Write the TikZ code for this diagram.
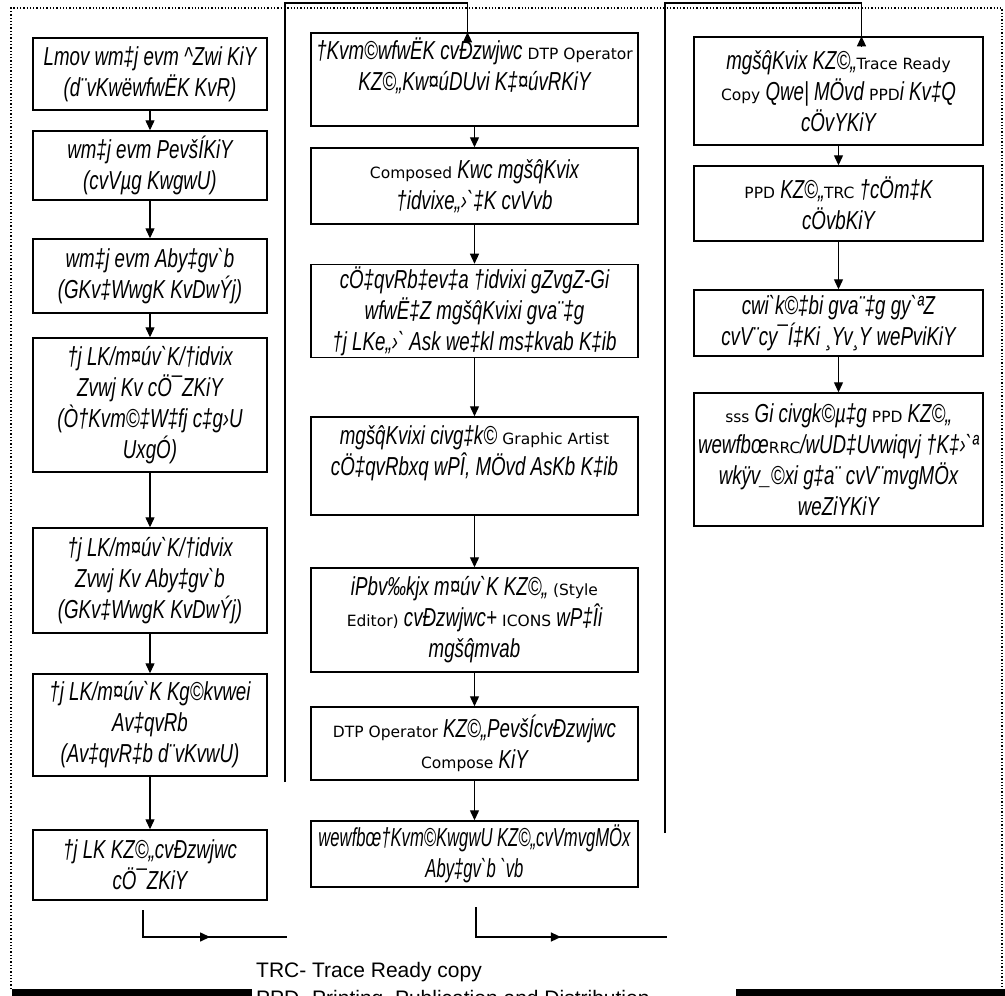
\documentclass[tikz,border=0pt]{standalone}
\usepackage{fontspec}
\newfontfamily\bnfont[FakeStretch=0.72,Ligatures=TeXOff]{Liberation Sans}
\newfontfamily\bntight[FakeStretch=0.64,Ligatures=TeXOff]{Liberation Sans}
\newfontfamily\enfont{DejaVu Sans}
\newfontfamily\keyfont{Liberation Sans}
\newcommand\en[1]{{\enfont\upshape\fontsize{15.5}{31}\selectfont #1}}
\usetikzlibrary{arrows.meta,decorations.markings}

\begin{document}
\begin{tikzpicture}
  [x=1pt,y=-1pt,
   flowN/.style={draw,line width=1.4pt,align=center,inner sep=2pt,
     font=\bnfont\itshape\fontsize{26}{31}\selectfont},
   tightN/.style={font=\bntight\itshape\fontsize{26}{31}\selectfont},
   leftN/.style={flowN,minimum width=234pt},
   midN/.style={flowN,minimum width=327pt},
   rightN/.style={flowN,minimum width=289pt},
   arr/.style={line width=1.2pt,-{Triangle[length=10pt,width=9pt]}},
   sepLine/.style={line width=1.6pt},
   midArr/.style={line width=1.4pt,postaction={decorate},
     decoration={markings,mark=at position #1 with {\arrow{Triangle[length=10pt,width=9pt]}}}},
  ]

  \useasboundingbox (0,0) rectangle (1005,996);

  % dotted frame and footer
  \draw[dotted,line width=1.3pt] (11,989) -- (11,8) -- (1002,8) -- (1002,989);
  \fill (12,989) rectangle (252,997);
  \fill (736,989) rectangle (1005,997);

  % column 1
  \node[leftN,minimum height=72pt] (B1) at (150,74)
    {Lmov wm‡j evm \textasciicircum{}Zwi KiY\\(d¨vKwëwfwËK KvR)};
  \node[leftN,minimum height=69pt] (B2) at (150,165.5)
    {wm‡j evm PevšÍKiY\\(cvVµg KwgwU)};
  \node[leftN,minimum height=74pt] (B3) at (150,276)
    {wm‡j evm Aby‡gv`b\\(GKv‡WwgK KvDwÝj)};
  \node[leftN,minimum height=134pt] (B4) at (150,405)
    {†j LK/m¤úv`K/†idvix\\Zvwj Kv cÖ¯ZKiY\\(Ò†Kvm©‡W‡fj c‡g›U\\UxgÓ)};
  \node[leftN,minimum height=105pt] (B5) at (150,580.5)
    {†j LK/m¤úv`K/†idvix\\Zvwj Kv Aby‡gv`b\\(GKv‡WwgK KvDwÝj)};
  \node[leftN,minimum height=102pt] (B6) at (150,725)
    {†j LK/m¤úv`K Kg©kvwei\\Av‡qvRb\\(Av‡qvR‡b d¨vKvwU)};
  \node[leftN,minimum height=70pt] (B7) at (150,865)
    {†j LK KZ©„cvÐzwjwc\\cÖ¯ZKiY};

  % column 2
  \node[midN,minimum height=93pt] (C1) at (474.5,79.5)
    {†Kvm©wfwËK cvÐzwjwc \en{DTP Operator}\\KZ©„Kw¤úDUvi K‡¤úvRKiY\\\mbox{}};
  \node[midN,minimum height=76pt] (C2) at (474.5,186)
    {\en{Composed} Kwc mgš\^qKvix\\†idvixe„›`‡K cvVvb};
  \node[midN,minimum height=88pt] (C3) at (474.5,311)
    {cÖ‡qvRb‡ev‡a †idvixi gZvgZ-Gi\\wfwË‡Z mgš\^qKvixi gva¨‡g\\†j LKe„›` Ask we‡kl ms‡kvab K‡ib};
  \node[midN,minimum height=98pt] (C4) at (474.5,466)
    {mgš\^qKvixi civg‡k© \en{Graphic Artist}\\cÖ‡qvRbxq wPÎ, MÖvd AsKb K‡ib\\\mbox{}};
  \node[midN,minimum height=104pt] (C5) at (474.5,620)
    {iPbv‰kjx m¤úv`K KZ©„ \en{(Style}\\\en{Editor)} cvÐzwjwc+ \en{ICONS} wP‡Îi\\mgš\^qmvab};
  \node[midN,minimum height=73pt] (C6) at (474.5,743.5)
    {\en{DTP Operator} KZ©„PevšÍcvÐzwjwc\\\en{Compose} KiY};
  \node[midN,tightN,minimum height=66pt] (C7) at (474.5,854)
    {wewfbœ†Kvm©KwgwU KZ©„cvVmvgMÖx\\Aby‡gv`b `vb};

  % column 3
  \node[rightN,minimum height=108pt] (D1) at (838.5,91)
    {mgš\^qKvix KZ©„\en{Trace Ready}\\\en{Copy} Qwe| MÖvd \en{PPD}i Kv‡Q\\cÖvYKiY};
  \node[rightN,minimum height=75pt] (D2) at (838.5,203.5)
    {\en{PPD} KZ©„\en{TRC} †cÖm‡K\\cÖvbKiY};
  \node[rightN,minimum height=66pt] (D3) at (838.5,323)
    {cwi`k©‡bi gva¨‡g gy`ªZ\\cvV¨cy¯Í‡Ki ¸Yv¸Y wePviKiY};
  \node[rightN,minimum height=133pt] (D4) at (838.5,459.5)
    {\en{sss} Gi civgk©µ‡g \en{PPD} KZ©„\\wewfbœ\en{RRC}/wUD‡Uvwiqvj †K‡›`ª\\wkÿv\_©xi g‡a¨ cvV¨mvgMÖx\\weZiYKiY};

  % flow inside columns
  \foreach \a/\b in {B1/B2,B2/B3,B3/B4,B4/B5,B5/B6,B6/B7,
                     C1/C2,C2/C3,C3/C4,C4/C5,C5/C6,C6/C7,
                     D1/D2,D2/D3,D3/D4}
    \draw[arr] (\a) -- (\b);

  % column separators carrying the flow on
  \coordinate (lbot) at (285,782);
  \coordinate (ltop) at (285,3);
  \coordinate (rbot) at (665,833);
  \coordinate (rtop) at (665,3);
  \draw[sepLine] (lbot) -- (ltop) -| ([xshift=-7pt]C1.north);
  \draw[arr] ([xshift=-7pt,yshift=-10pt]C1.north) -- ([xshift=-7pt]C1.north);
  \draw[sepLine] (rbot) -- (rtop) -| ([xshift=23pt]D1.north);
  \draw[arr] ([xshift=23pt,yshift=-10pt]D1.north) -- ([xshift=23pt]D1.north);

  % bottom links
  \coordinate (l1s) at (143,910);
  \coordinate (l1e) at (287,937);
  \coordinate (l2s) at (476,907);
  \coordinate (l2e) at (667,937);
  \draw[midArr=0.55] (l1s) |- (l1e);
  \draw[midArr=0.52] (l2s) |- (l2e);

  % key
  \node[font=\keyfont\fontsize{21}{25}\selectfont,anchor=west,inner sep=0pt] (keyTRC) at (256,972)
    {TRC- Trace Ready copy};
  \node[font=\keyfont\fontsize{21}{25}\selectfont,anchor=north west,inner sep=0pt] (keyPPD) at (256,990)
    {PPD- Printing, Publication and Distribution};
\end{tikzpicture}
\end{document}
